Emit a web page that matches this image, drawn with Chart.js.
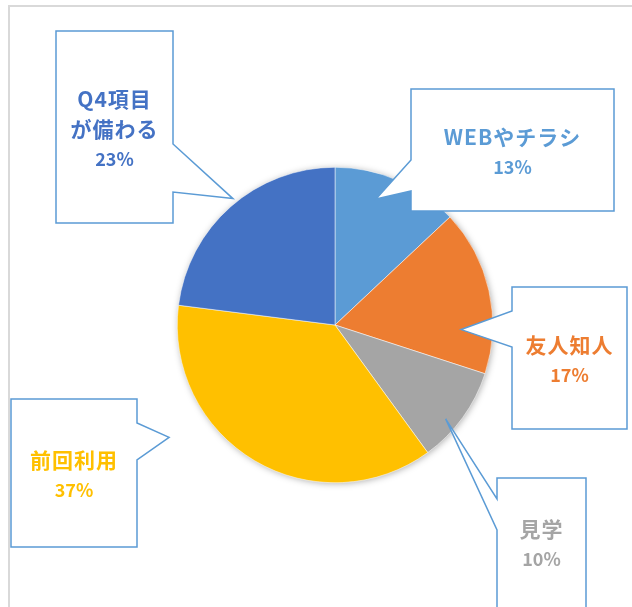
<!DOCTYPE html>
<html>
<head>
<meta charset="utf-8">
<script src="https://cdn.jsdelivr.net/npm/chart.js@4/dist/chart.umd.min.js"></script>
<style>
  body { margin: 0; background: #fff; }
  canvas { display: block; }
</style>
</head>
<body>
<canvas id="grafico" width="632" height="607"></canvas>
<script>
// dados do gráfico (sentido horário a partir do topo)
const categorias = ['WEBやチラシ', '友人知人', '見学', '前回利用', ['Q4項目', 'が備わる']];
const valores = [13, 17, 10, 37, 23];
const cores = ['#5B9BD5', '#ED7D31', '#A5A5A5', '#FFC000', '#4472C4'];

// caixas dos rótulos (só layout): retângulo, lado da ponta, base da ponta, posição da ponta na fatia
const baloes = [
  { box: [411, 89, 614, 211], lado: 'left', base: [160, 191], f: 0.385, k: 0.84 },
  { box: [512, 287, 627, 429], lado: 'left', base: [311, 347], f: 0.74, k: 0.80 },
  { box: [497, 478, 586, 640], lado: 'left', base: [499, 530], f: 0.62, k: 0.92 },
  { box: [11, 399, 137, 547], lado: 'right', base: [423, 460], f: 0.69, k: 1.27 },
  { box: [56, 31, 173, 223], lado: 'right', base: [144, 192], f: 0.53, k: 1.03 }
];

const fonte = '"Noto Sans CJK JP", "Noto Sans", sans-serif';

const moldura = {
  id: 'moldura',
  beforeDraw(chart) {
    const ctx = chart.ctx;
    ctx.save();
    ctx.fillStyle = '#fff';
    ctx.fillRect(0, 0, chart.width, chart.height);
    ctx.strokeStyle = '#D9D9D9';
    ctx.lineWidth = 2;
    ctx.beginPath();
    ctx.moveTo(9, 608);
    ctx.lineTo(9, 6);
    ctx.lineTo(640, 6);
    ctx.stroke();
    ctx.restore();
  }
};

const sombra = {
  id: 'sombra',
  beforeDatasetsDraw(chart) {
    const arc = chart.getDatasetMeta(0).data[0];
    const ctx = chart.ctx;
    ctx.save();
    ctx.shadowColor = 'rgba(0,0,0,0.35)';
    ctx.shadowBlur = 7;
    ctx.shadowOffsetX = 1;
    ctx.shadowOffsetY = 1;
    ctx.fillStyle = '#fff';
    ctx.beginPath();
    ctx.arc(arc.x, arc.y, arc.outerRadius - 0.5, 0, Math.PI * 2);
    ctx.fill();
    ctx.restore();
  }
};

const rotulos = {
  id: 'rotulos',
  afterDatasetsDraw(chart) {
    const ctx = chart.ctx;
    const arcos = chart.getDatasetMeta(0).data;
    const total = valores.reduce((a, b) => a + b, 0);
    arcos.forEach((arc, i) => {
      const b = baloes[i];
      const [x1, y1, x2, y2] = b.box;
      const ang = arc.startAngle + b.f * (arc.endAngle - arc.startAngle);
      const tx = arc.x + b.k * arc.outerRadius * Math.cos(ang);
      const ty = arc.y + b.k * arc.outerRadius * Math.sin(ang);

      ctx.save();
      ctx.beginPath();
      if (b.lado === 'left') {
        ctx.moveTo(x1, y1);
        ctx.lineTo(x2, y1);
        ctx.lineTo(x2, y2);
        ctx.lineTo(x1, y2);
        ctx.lineTo(x1, b.base[1]);
        ctx.lineTo(tx, ty);
        ctx.lineTo(x1, b.base[0]);
      } else {
        ctx.moveTo(x1, y1);
        ctx.lineTo(x2, y1);
        ctx.lineTo(x2, b.base[0]);
        ctx.lineTo(tx, ty);
        ctx.lineTo(x2, b.base[1]);
        ctx.lineTo(x2, y2);
        ctx.lineTo(x1, y2);
      }
      ctx.closePath();
      ctx.fillStyle = '#fff';
      ctx.fill();
      ctx.strokeStyle = '#5B9BD5';
      ctx.lineWidth = 1.5;
      ctx.stroke();

      const nome = [].concat(chart.data.labels[i]);
      const pct = Math.round(valores[i] / total * 100) + '%';
      const linhas = nome.concat([pct]);
      const cx = (x1 + Math.min(x2, 632)) / 2;
      const cy = (y1 + Math.min(y2, 607)) / 2;
      let y = cy + 2 - (linhas.length - 1) * 15;
      ctx.fillStyle = cores[i];
      ctx.textAlign = 'center';
      ctx.textBaseline = 'middle';
      linhas.forEach((t, j) => {
        const ultimo = j === linhas.length - 1;
        ctx.font = (ultimo ? 'bold 18px ' : 'bold 21px ') + fonte;
        ctx.letterSpacing = ultimo ? '0px' : '1px';
        ctx.fillText(t, cx, y);
        y += 30;
      });
      ctx.restore();
    });
  }
};

new Chart(document.getElementById('grafico'), {
  type: 'pie',
  data: {
    labels: categorias,
    datasets: [{
      data: valores,
      backgroundColor: cores,
      borderColor: '#fff',
      borderWidth: 0.5
    }]
  },
  options: {
    responsive: false,
    animation: false,
    layout: { padding: { left: 177, right: 139, top: 167, bottom: 124 } },
    plugins: {
      legend: { display: false },
      tooltip: { enabled: false }
    }
  },
  plugins: [moldura, sombra, rotulos]
});
</script>
</body>
</html>
